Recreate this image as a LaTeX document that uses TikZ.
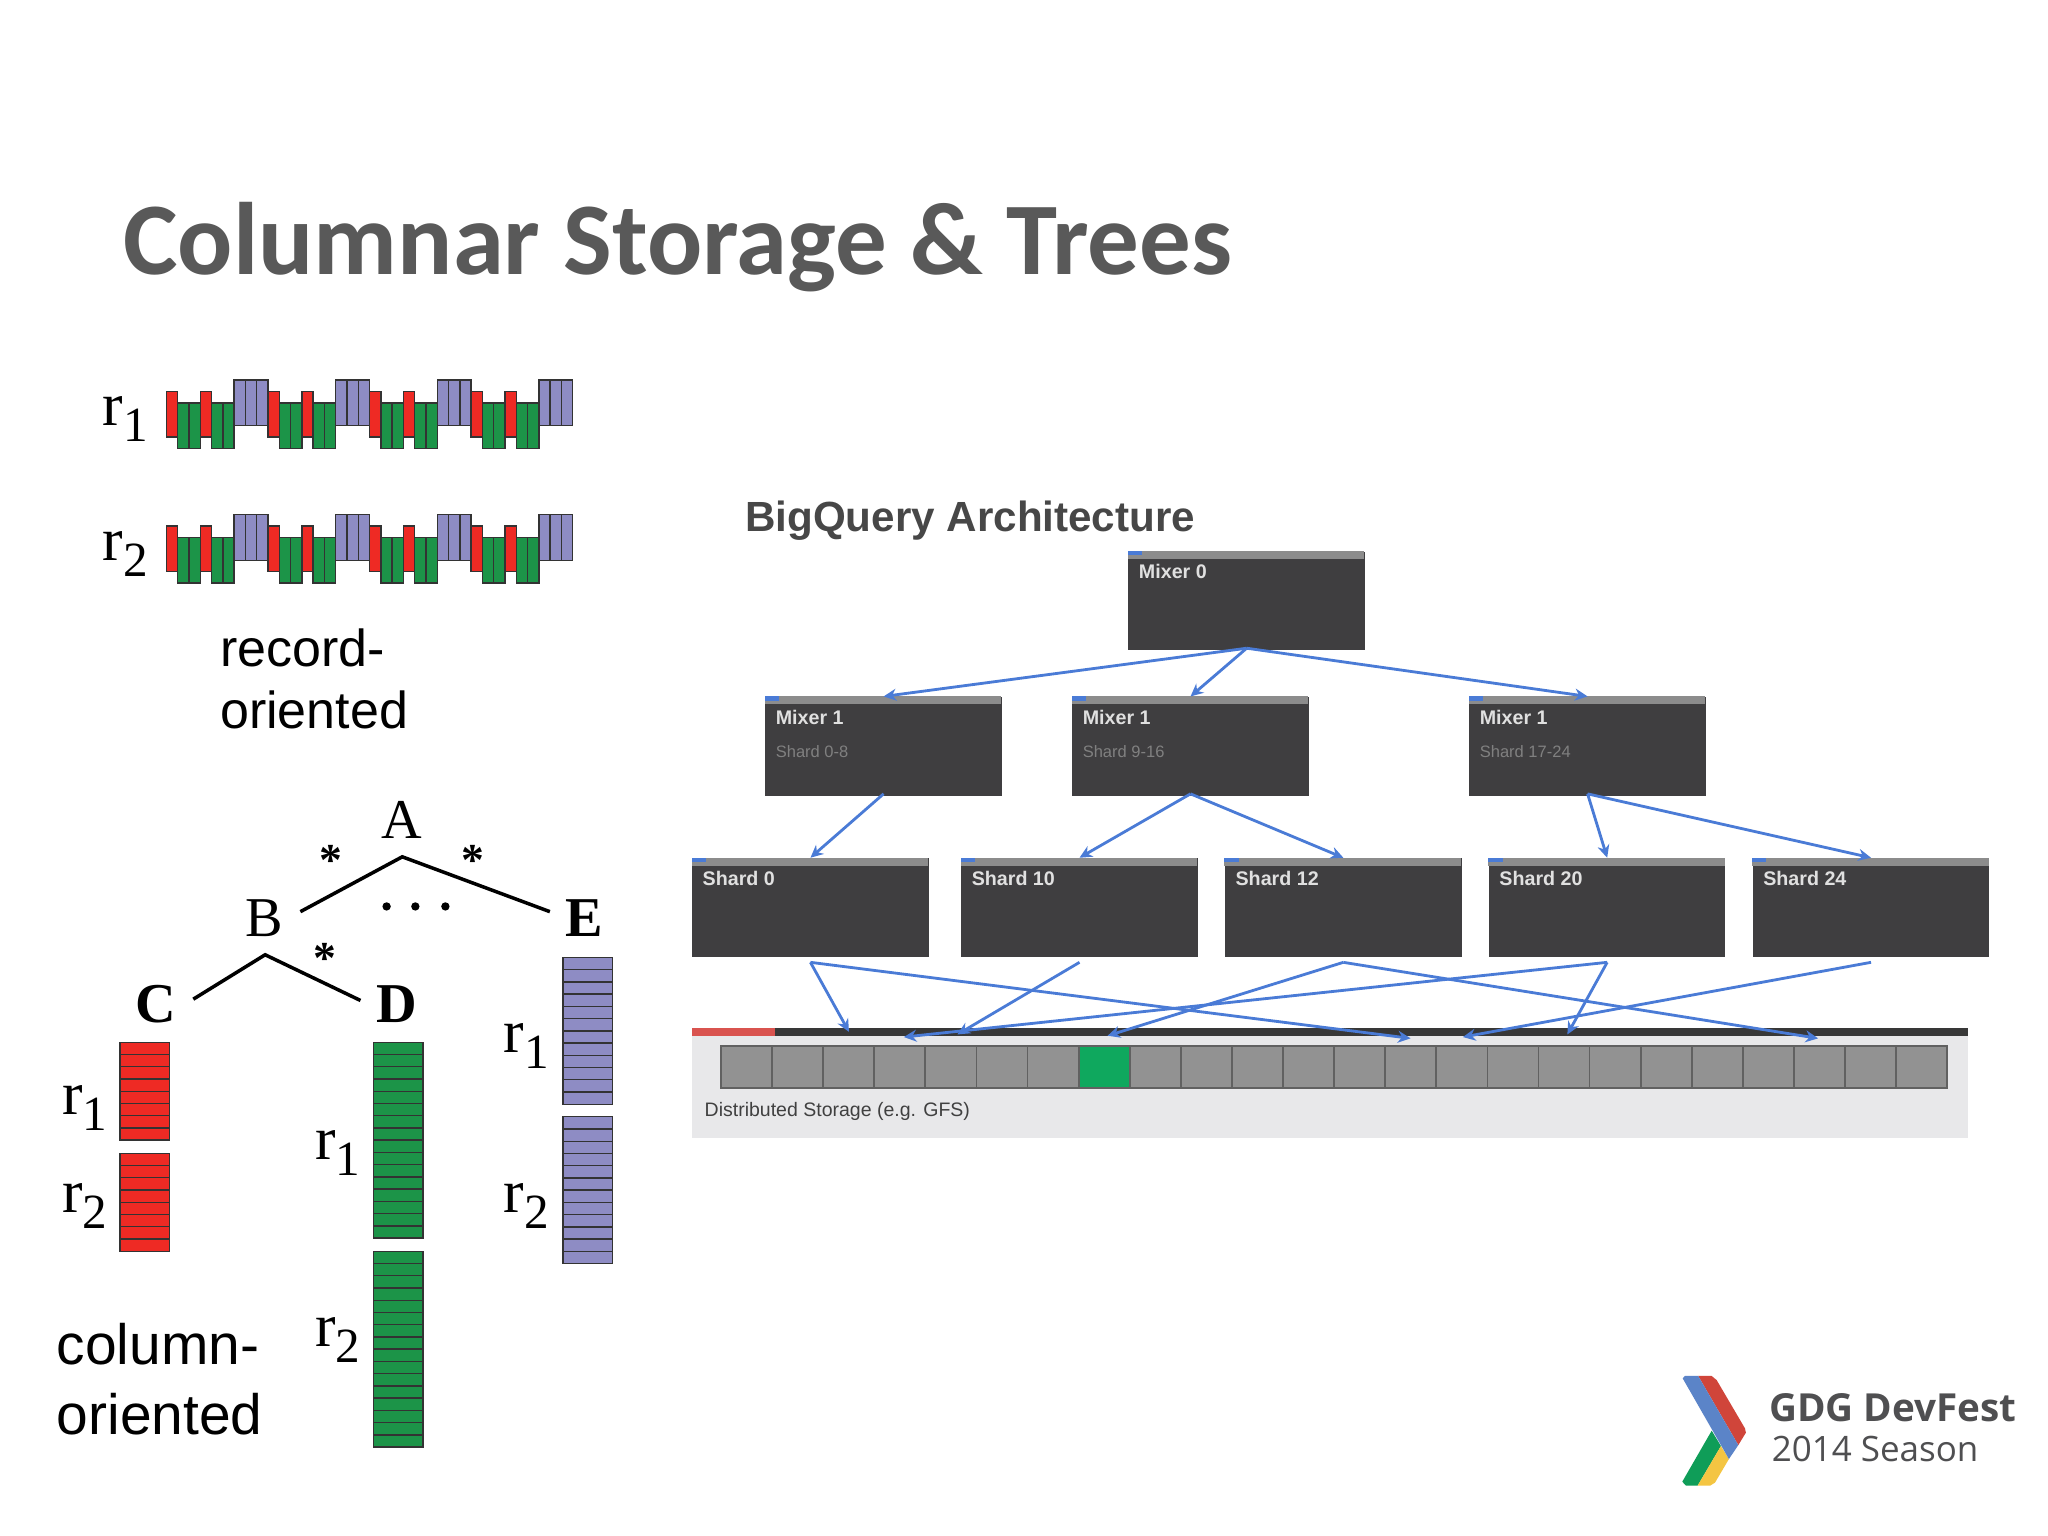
\documentclass[tikz,border=0pt]{standalone}
\usepackage{fontspec}
\setmainfont{Liberation Sans}
\newfontfamily\titlefont{Carlito}
\newfontfamily\serfont{Liberation Serif}
\newfontfamily\logofont{Open Sans}
\usetikzlibrary{arrows.meta}
\definecolor{cellred}{HTML}{EE2A24}
\definecolor{cellgreen}{HTML}{1C9448}
\definecolor{cellpurple}{HTML}{8E8CC4}
\definecolor{boxdark}{HTML}{3F3E40}
\definecolor{boxbar}{HTML}{8C8C8C}
\definecolor{flowblue}{HTML}{4A7BD6}
\definecolor{panelgray}{HTML}{E8E8EA}
\definecolor{slotgray}{HTML}{929292}
\definecolor{slotgreen}{HTML}{0FA85E}
\definecolor{logotext}{HTML}{4F4F51}
\definecolor{barred}{HTML}{D9534F}
\definecolor{logored}{HTML}{D0453A}
\definecolor{logoblue}{HTML}{5B84C8}
\definecolor{logogreen}{HTML}{0F9D58}
\definecolor{logoyellow}{HTML}{F4C542}
\newcommand{\recl}[1]{r\raisebox{-0.26em}{\fontsize{14}{16}\selectfont #1}}
\tikzset{
	cellline/.style={draw=black!80,line width=0.4pt},
	srvbox/.style={rectangle,fill=boxdark,minimum width=181*0.13061mm,minimum height=75.5*0.13061mm,inner sep=0pt},
	srvtitle/.style={anchor=base west,inner sep=0pt,text=white!88!black,font=\fontsize{5.6}{7}\selectfont\bfseries},
	srvsub/.style={anchor=base west,inner sep=0pt,text=black!50,font=\fontsize{4.7}{6}\selectfont},
	flow/.style={draw=flowblue,line width=0.8pt,-{Stealth[length=3.6pt,width=3.4pt]}},
	treeline/.style={draw=black,line width=1pt},
	reclabel/.style={anchor=base west,inner sep=0pt,font=\fontsize{17.5}{20}\selectfont\serfont},
	treeleaf/.style={anchor=base,inner sep=0pt,font=\fontsize{16}{18}\selectfont\serfont\bfseries},
	treeinner/.style={anchor=base,inner sep=0pt,font=\fontsize{16}{18}\selectfont\serfont},
	treestar/.style={inner sep=0pt,font=\fontsize{13}{18}\selectfont\serfont\bfseries},
	plainword/.style={anchor=base west,inner sep=0pt},
}
\begin{document}
\begin{tikzpicture}[x=0.013061cm,y=-0.013061cm]
	\useasboundingbox[fill=white] (0,0) rectangle (1568,1176);
	\node[plainword,text=black!65,font=\fontsize{29.3}{36}\selectfont\titlefont\bfseries] (title) at (94,210) {Columnar Storage \& Trees};

	% record rows
	\foreach \y/\rr/\lab in {291/1/rowone,394/2/rowtwo} {
		\foreach \p in {0,...,3} {
			\foreach \c in {0,3}
				\draw[cellline,fill=cellred] ({127.4+(9*\p+\c)*8.64},\y+8.7) rectangle ++(8.64,35);
			\foreach \c in {1,2,4,5}
				\draw[cellline,fill=cellgreen] ({127.4+(9*\p+\c)*8.64},\y+17.4) rectangle ++(8.64,35);
			\foreach \c in {6,7,8}
				\draw[cellline,fill=cellpurple] ({127.4+(9*\p+\c)*8.64},\y) rectangle ++(8.64,35);
		}
		\node[reclabel] (\lab) at (78,\y+35) {\recl{\rr}};
	}
	\node[plainword,font=\fontsize{14.8}{18}\selectfont] (recordword) at (168,510) {record-};
	\node[plainword,font=\fontsize{14.8}{18}\selectfont] (recordword2) at (168,558) {oriented};

	% tree
	\node[treeinner] (A) at (308,642) {A};
	\node[treeinner] (B) at (202,717) {B};
	\node[treeleaf] (C) at (119.5,783) {C};
	\node[treeleaf] (D) at (304,783) {D};
	\node[treeleaf] (E) at (447,717) {E};
	\coordinate (Aapex) at (308,656);
	\coordinate (Bapex) at (203,731);
	\coordinate (Bend) at (230,698);
	\coordinate (Eend) at (421,698);
	\coordinate (Cend) at (148,765);
	\coordinate (Dend) at (276,766);
	\draw[treeline] (Bend) -- (Aapex) -- (Eend);
	\draw[treeline] (Cend) -- (Bapex) -- (Dend);
	\node[treestar] (starB) at (253,659) {*};
	\node[treestar] (starE) at (362,659) {*};
	\node[treestar] (starD) at (249,734) {*};
	\foreach \x in {296,318,341}
		\fill (\x,694) circle (3.2);

	% columns
	\foreach \x/\ytop/\n/\colr in {92/798/8/cellred,92/883/8/cellred,286/798/16/cellgreen,286/958/16/cellgreen,431/733/12/cellpurple,431/855/12/cellpurple}
		\foreach \i in {1,...,\n}
			\draw[cellline,fill=\colr] (\x,{\ytop+(\i-1)*9.37}) rectangle ++(38,9.37);
	\foreach \nm/\x/\y/\rr in {cr/47/853/1,cs/47/928/2,dr/241/888/1,ds/241/1031/2,er/385/806/1,es/385/928/2}
		\node[reclabel] (\nm) at (\x,\y) {\recl{\rr}};
	\node[plainword,font=\fontsize{16.2}{18}\selectfont] (columnword) at (43,1045) {column-};
	\node[plainword,font=\fontsize{16.2}{18}\selectfont] (columnword2) at (43,1098) {oriented};

	% architecture
	\node[plainword,text=black!72,font=\fontsize{12}{14}\selectfont\bfseries] (archtitle) at (570,407) {BigQuery Architecture};

	\fill[panelgray] (530,787) rectangle (1507,871);
	\fill[black!78] (530,787) rectangle (1507,793);
	\fill[barred] (530,787) rectangle (593,793);
	\foreach \i in {0,...,23}
		\draw[draw=black!62,line width=0.5pt,fill=slotgray] ({552+\i*39.12},801) rectangle ++(39.12,32);
	\draw[draw=black!62,line width=0.5pt,fill=slotgreen] ({552+7*39.12},801) rectangle ++(39.12,32);
	\node[plainword,text=black!75,font=\fontsize{5.55}{7}\selectfont] (gfs) at (539,855) {Distributed Storage (e.g. GFS)};

	\foreach \nm/\cx/\cy/\ttl/\sbt in {mzero/954.5/460/Mixer 0/,ma/676.5/571.5/Mixer 1/Shard 0-8,mb/911.5/571.5/Mixer 1/Shard 9-16,mc/1215.5/571.5/Mixer 1/Shard 17-24,sa/620.5/695/Shard 0/,sb/826.5/695/Shard 10/,sc/1028.5/695/Shard 12/,sd/1230.5/695/Shard 20/,se/1432.5/695/Shard 24/} {
		\node[srvbox] (\nm) at (\cx,\cy) {};
		\fill[boxbar] (\nm.north west) rectangle ++(181,6);
		\fill[flowblue] (\nm.north west) rectangle ++(11,3.5);
		\node[srvtitle] (\nm-title) at ([xshift=8*0.13061mm,yshift=-21.5*0.13061mm]\nm.north west) {\ttl};
		\node[srvsub] (\nm-sub) at ([xshift=8*0.13061mm,yshift=-46.5*0.13061mm]\nm.north west) {\sbt};
	}

	\coordinate (tone) at (650,790);
	\coordinate (ttwo) at (1080,795);
	\coordinate (tthree) at (733,792);
	\coordinate (tfour) at (848,793);
	\coordinate (tfive) at (1392,795);
	\coordinate (tsix) at (692,794);
	\coordinate (tseven) at (1200,792);
	\coordinate (teight) at (1120,794);

	\foreach \a/\b in {mzero/ma,mzero/mb,mzero/mc,ma/sa,mb/sb,mb/sc,mc/sd,mc/se}
		\draw[flow] ([yshift=2pt*0.37]\a.south) -- (\b.north);
	\foreach \a/\b in {sa/tone,sa/ttwo,sb/tthree,sc/tfour,sc/tfive,sd/tsix,sd/tseven,se/teight}
		\draw[flow] ([yshift=-3.5*0.13061mm]\a.south) -- (\b);

	% logo
	\fill[logored] (1300.2,1053.5) -- (1310.5,1053.5) -- (1314.3,1056.6) -- (1336,1093.6) -- (1336.7,1096.9) -- (1330.9,1106.4) -- cycle;
	\fill[logogreen] (1310.5,1095.4) -- (1317.6,1107.1) -- (1299.7,1137.5) -- (1290.8,1137.5) -- (1288,1134.4) -- cycle;
	\fill[logoyellow] (1317.6,1107.1) -- (1323.7,1117.1) -- (1313,1135.2) -- (1309.2,1137.5) -- (1299.7,1137.5) -- cycle;
	\fill[logoblue] (1288.3,1055.3) -- (1290,1053.5) -- (1300.2,1053.5) -- (1330.9,1106.4) -- (1323.7,1117.1) -- cycle;
	\node[plainword,text=logotext,font=\fontsize{11}{12}\selectfont\logofont\bfseries] (gdg) at (1354,1088) {GDG DevFest};
	\node[plainword,text=logotext,font=\fontsize{9.95}{12}\selectfont\logofont] (season) at (1356,1119) {2014 Season};
\end{tikzpicture}
\end{document}
